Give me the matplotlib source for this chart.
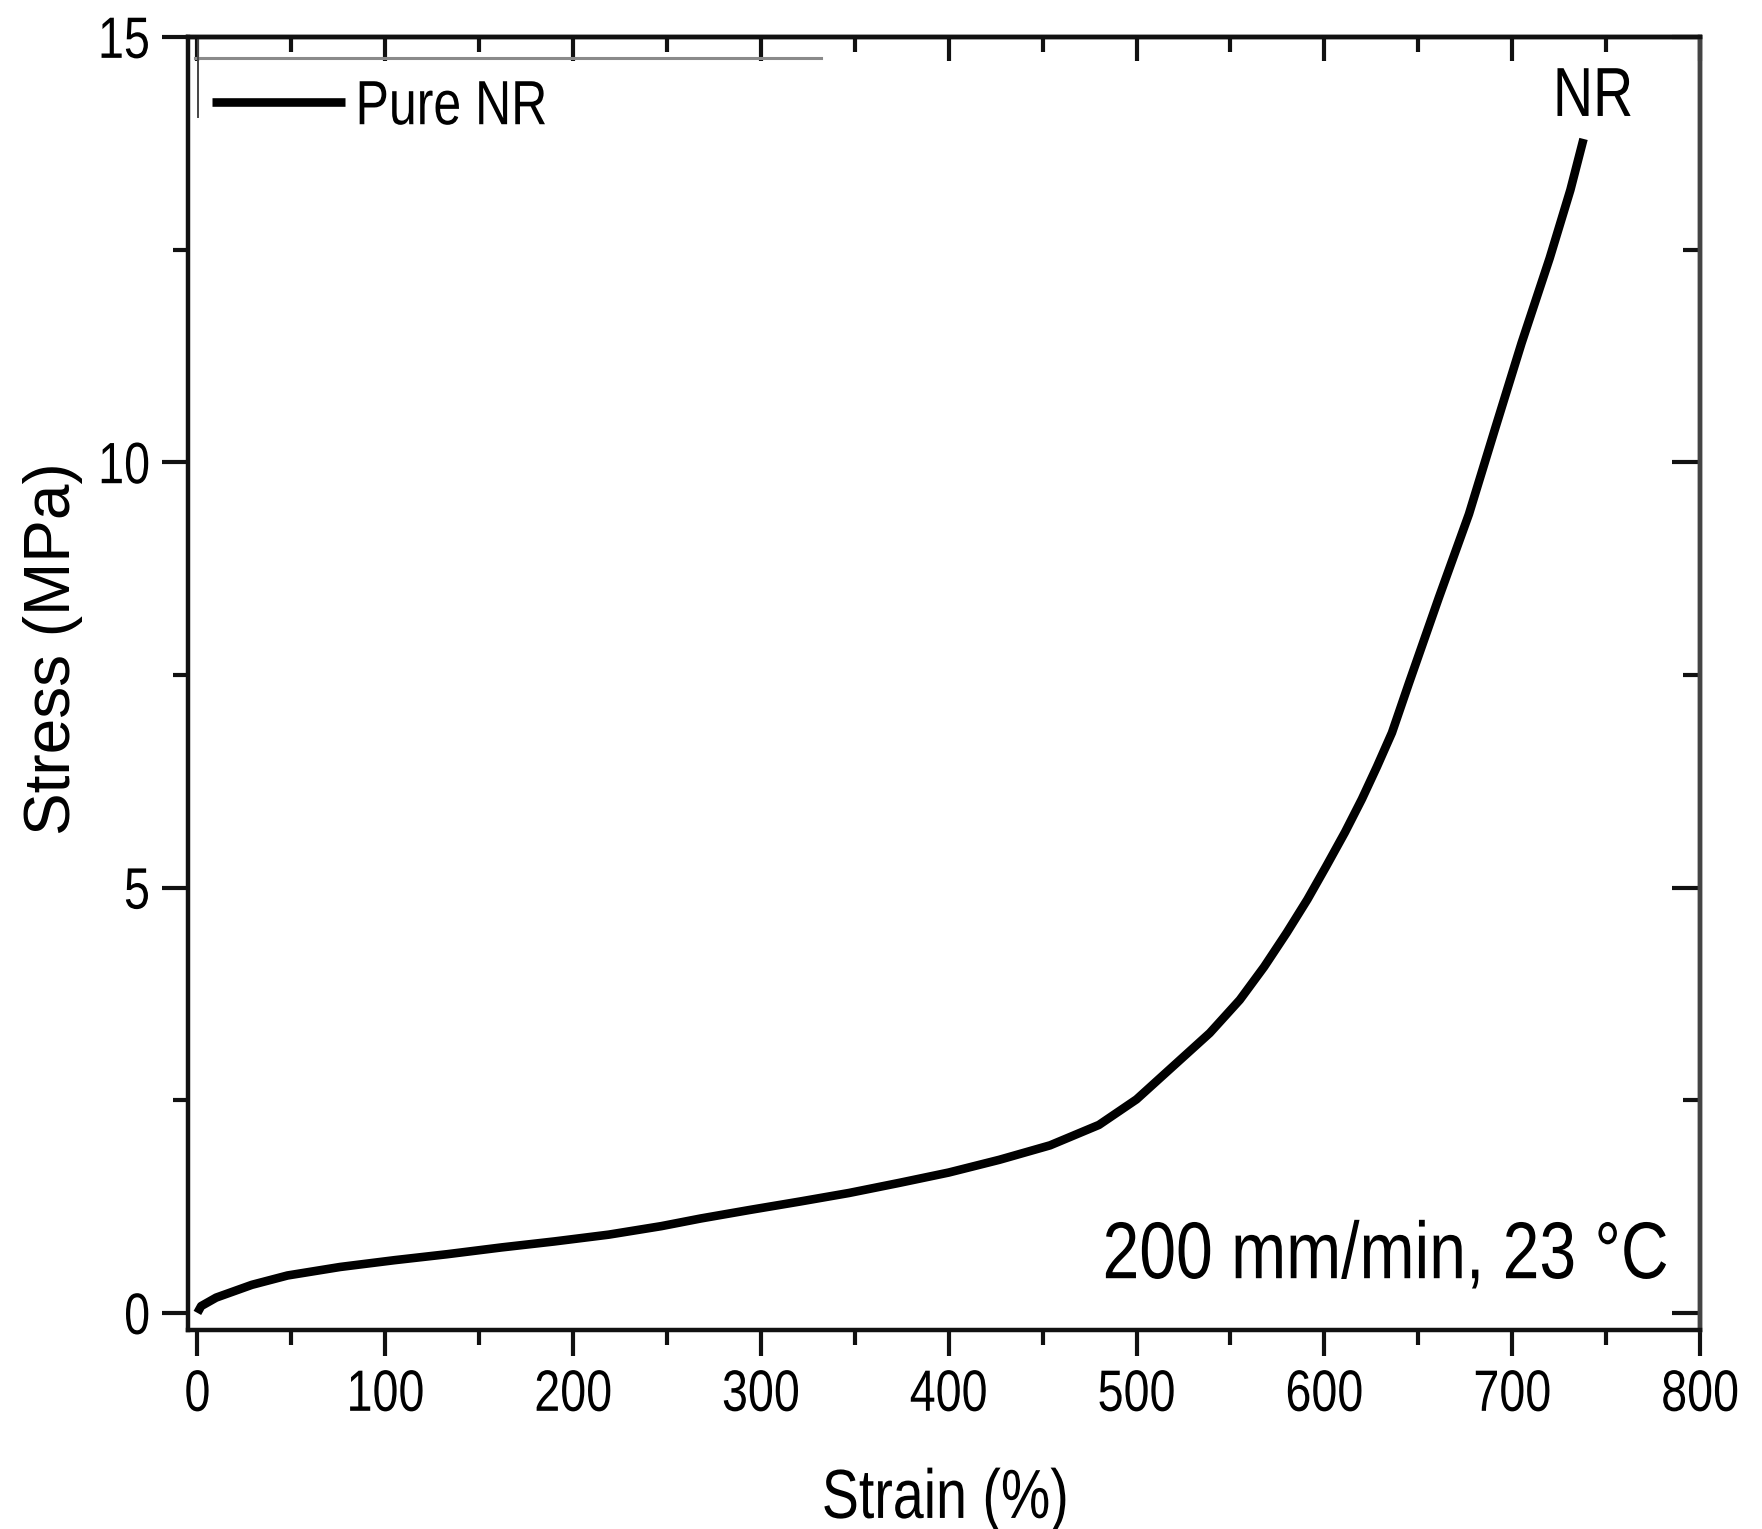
import matplotlib
matplotlib.use("Agg")
import matplotlib.pyplot as plt
from matplotlib.ticker import MultipleLocator, NullFormatter
from matplotlib.lines import Line2D
from matplotlib.patheffects import AbstractPathEffect
from matplotlib.transforms import Affine2D

# Tensile curve of pure natural rubber
strain = [0, 2, 10, 29, 48, 76, 105, 133, 162, 190, 219, 247, 268, 294, 321,
          347, 374, 400, 427, 454, 480, 500, 519, 539, 555, 568, 580, 591, 601,
          611, 620, 628, 636, 645, 661, 677, 691, 705, 720, 731, 738]
stress = [0.0, 0.08, 0.18, 0.33, 0.44, 0.54, 0.62, 0.69, 0.77, 0.84, 0.92, 1.02,
          1.11, 1.21, 1.31, 1.41, 1.53, 1.65, 1.80, 1.97, 2.21, 2.51, 2.89,
          3.29, 3.68, 4.07, 4.47, 4.86, 5.25, 5.65, 6.04, 6.42, 6.82, 7.40,
          8.41, 9.39, 10.40, 11.40, 12.40, 13.20, 13.80]

x_major = [0, 100, 200, 300, 400, 500, 600, 700, 800]
y_major = [0, 5, 10, 15]
series_label = "Pure NR"
curve_tag = "NR"
condition = "200 mm/min, 23 \u00b0C"

regular = ["Liberation Sans", "DejaVu Sans"]


class Squeeze(AbstractPathEffect):
    """Draw text glyphs compressed horizontally about an anchor point."""

    def __init__(self, sx=0.82, anchor="left"):
        super().__init__()
        self.sx = sx
        self.anchor = anchor

    def draw_path(self, renderer, gc, tpath, affine, rgbFace=None):
        ext = tpath.get_extents()
        px = {"left": ext.x0, "center": 0.5 * (ext.x0 + ext.x1),
              "right": ext.x1}[self.anchor]
        t = Affine2D().translate(-px, 0).scale(self.sx, 1).translate(px, 0) + affine
        renderer.draw_path(gc, tpath, t, rgbFace)


fig = plt.figure(figsize=(17.62, 15.29), dpi=100)
ax = fig.add_axes([0.1067, 0.1302, 0.8581, 0.8457])

ax.plot(strain, stress, color="black", lw=6.2, solid_capstyle="butt",
        solid_joinstyle="round", label=series_label)

ax.set_xlim(-5, 800)
ax.set_ylim(-0.2, 15)

for s in ax.spines.values():
    s.set_linewidth(3.2)
    s.set_color("#111111")
ax.spines["right"].set_color("#444444")

ax.set_xticks(x_major)
ax.set_yticks(y_major)
ax.xaxis.set_minor_locator(MultipleLocator(50))
ax.yaxis.set_minor_locator(MultipleLocator(2.5))
ax.tick_params(axis="both", which="major", direction="out", length=19, width=3,
               color="#111111")
ax.tick_params(axis="both", which="minor", direction="out", length=11, width=3,
               color="#111111")
ax.tick_params(axis="x", which="major", pad=9)
ax.tick_params(axis="y", which="major", pad=8)
ax.tick_params(top=False, right=False)

for tick in ax.xaxis.get_major_ticks():
    tick.label1.set_fontfamily(regular)
    tick.label1.set_fontsize(42)
    tick.label1.set_path_effects([Squeeze(0.8, "center")])
for tick in ax.yaxis.get_major_ticks():
    tick.label1.set_fontfamily(regular)
    tick.label1.set_fontsize(42)
    tick.label1.set_path_effects([Squeeze(0.8, "right")])

# inward ticks along the top and right edges
top = ax.secondary_xaxis("top")
top.set_xticks(x_major)
top.xaxis.set_minor_locator(MultipleLocator(50))
top.tick_params(which="major", direction="in", length=17, width=3,
                labeltop=False, color="#111111")
top.tick_params(which="minor", direction="in", length=11, width=3,
                color="#111111")
top.xaxis.set_major_formatter(NullFormatter())
top.spines["top"].set_linewidth(3.2)

right = ax.secondary_yaxis("right")
right.set_yticks(y_major)
right.yaxis.set_minor_locator(MultipleLocator(2.5))
right.tick_params(which="major", direction="in", length=20, width=3,
                  labelright=False, color="#111111")
right.tick_params(which="minor", direction="in", length=12, width=3,
                  color="#111111")
right.yaxis.set_major_formatter(NullFormatter())
right.spines["right"].set_linewidth(3.2)
right.spines["right"].set_color("#444444")

xl = ax.set_xlabel("Strain (%)", fontsize=50, family=regular, va="baseline")
xl.set_path_effects([Squeeze(0.8, "center")])
ax.xaxis.set_label_coords(0.501, -0.1454)
ax.set_ylabel("Stress (MPa)", fontsize=46, family=regular, va="baseline",
              rotation_mode="anchor")
ax.yaxis.set_label_coords(-0.078, 0.527)

# legend with its partial frame
leg = ax.legend(loc="upper left", bbox_to_anchor=(0.0159, 0.968),
                frameon=False, handlelength=2.12, handletextpad=0.16,
                borderaxespad=0, borderpad=0,
                prop={"family": regular, "size": 45})
for txt in leg.get_texts():
    txt.set_path_effects([Squeeze(0.8, "left")])
ax.add_line(Line2D([0.0046, 0.4187], [0.9838, 0.9838], transform=ax.transAxes,
                   color="#8a8a8a", lw=2.2, clip_on=False))
ax.add_line(Line2D([0.0066, 0.0066], [0.938, 1.0], transform=ax.transAxes,
                   color="#444444", lw=1.4, clip_on=False))

ax.text(strain[-1] + 5, 14.07, curve_tag, ha="center", va="baseline",
        fontsize=50, family=regular, path_effects=[Squeeze(0.8, "center")])
ax.text(0.979, 0.040, condition, transform=ax.transAxes, ha="right",
        va="baseline", fontsize=58, family=regular,
        path_effects=[Squeeze(0.82, "right")])

fig.savefig("out.png", dpi=100, facecolor="white")
